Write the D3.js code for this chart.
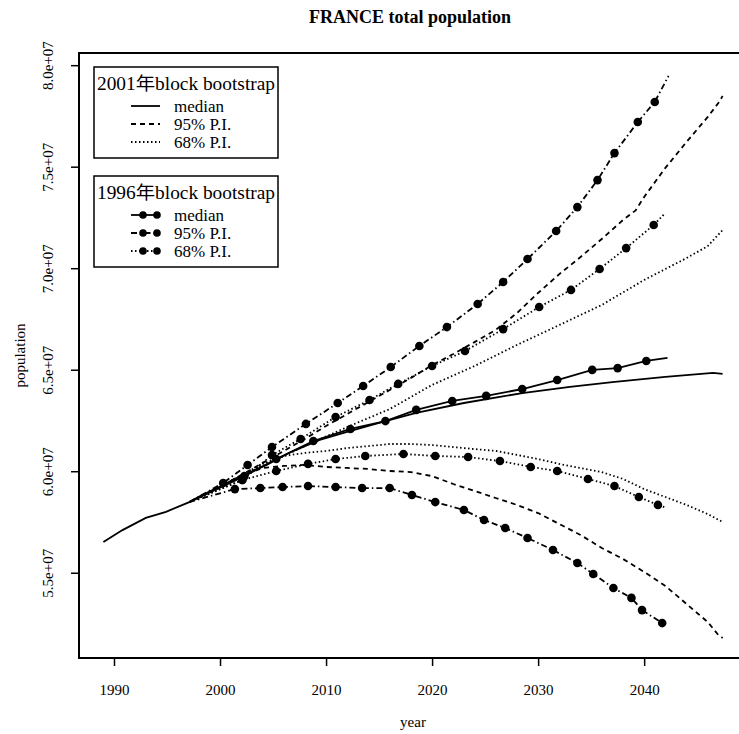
<!DOCTYPE html>
<html>
<head>
<meta charset="utf-8">
<script src="https://cdn.jsdelivr.net/npm/d3@7"></script>
<style>
  body { margin: 0; background: #fff; }
  svg { font-family: "Liberation Serif", "Noto Sans CJK TC", serif; }
</style>
</head>
<body>
<div id="chart"></div>
<script>
// population in millions, [year, value]
const history = [[1989.0,56.51],[1990.8,57.10],[1993.0,57.70],[1994.9,58.00],[1997.1,58.48],[1998.3,58.83],[1999.9,59.22],[2001.0,59.52]];

// 2001 block bootstrap
const med2001 = [[2001.0,59.52],[2001.8,59.72],[2004.4,60.31],[2006.5,60.90],[2009.4,61.54],[2011.9,61.93],[2015.0,62.38],[2018.5,62.87],[2023.0,63.36],[2028.5,63.85],[2033.0,64.15],[2037.0,64.39],[2042.0,64.65],[2046.5,64.84],[2047.4,64.79]];
const up95_2001 = [[2001,59.52],[2002,59.81],[2004,60.40],[2006,60.99],[2008,61.59],[2010,62.23],[2012,62.82],[2014,63.41],[2016,64.00],[2018,64.59],[2020,65.23],[2022,65.77],[2024,66.36],[2026,66.96],[2028,67.79],[2030,68.78],[2032,69.71],[2034,70.55],[2036,71.44],[2038,72.37],[2039.2,72.85],[2040,73.51],[2042,74.94],[2044,76.22],[2046,77.45],[2047,78.14],[2047.4,78.48]];
const up68_2001 = [[2001,59.52],[2004,60.26],[2008,61.24],[2012,62.18],[2016,63.06],[2020,64.25],[2024,65.18],[2028,66.22],[2032,67.20],[2036,68.19],[2040,69.42],[2044,70.50],[2046,71.09],[2047.4,71.88]];
const lo68_2001 = [[2001,59.52],[2004,60.36],[2006,60.75],[2008,60.90],[2010,61.00],[2012,61.14],[2014,61.24],[2016,61.34],[2018,61.34],[2020,61.29],[2022,61.19],[2024,61.09],[2026,61.00],[2028,60.80],[2030,60.60],[2032,60.36],[2034,60.16],[2036,59.96],[2038,59.62],[2040,59.12],[2042,58.73],[2044,58.34],[2046,57.89],[2047.4,57.50]];
const lo95_2001 = [[2001,59.52],[2002,59.76],[2004,60.16],[2006,60.26],[2008,60.31],[2010,60.21],[2012,60.16],[2014,60.11],[2016,60.01],[2018,59.96],[2020,59.76],[2022,59.37],[2024,59.03],[2026,58.68],[2028,58.34],[2030,57.94],[2032,57.40],[2034,56.86],[2036,56.22],[2038,55.68],[2040,55.04],[2042,54.35],[2044,53.46],[2046,52.57],[2047,51.93],[2047.4,51.79]];

// 1996 block bootstrap
const med1996 = [[1997.1,58.48],[2002.3,59.76],[2005.3,60.60],[2008.8,61.49],[2012.3,62.08],[2015.6,62.47],[2018.5,63.02],[2021.9,63.46],[2025.1,63.71],[2028.5,64.05],[2031.8,64.49],[2035.1,64.99],[2037.5,65.08],[2040.2,65.43],[2042.2,65.58]];
const up95_1996 = [[1997.1,58.48],[2000.3,59.42],[2002.6,60.31],[2004.9,61.19],[2008.1,62.33],[2011.1,63.36],[2013.5,64.20],[2016.1,65.13],[2018.8,66.17],[2021.4,67.10],[2024.3,68.24],[2026.7,69.32],[2029.0,70.45],[2031.7,71.83],[2033.7,73.01],[2035.6,74.34],[2037.2,75.67],[2039.4,77.20],[2041.0,78.19],[2042.3,79.47]];
const up68_1996 = [[1997.1,58.48],[2002.1,59.57],[2004.9,60.80],[2007.6,61.59],[2010.9,62.67],[2014.1,63.51],[2016.8,64.30],[2020.0,65.18],[2023.1,65.92],[2026.7,67.00],[2030.1,68.09],[2033.1,68.93],[2035.8,69.96],[2038.3,70.99],[2040.9,72.13],[2042.0,72.72]];
const lo68_1996 = [[1997.1,58.48],[2002.1,59.57],[2005.3,60.01],[2008.3,60.36],[2010.9,60.60],[2013.7,60.75],[2017.3,60.85],[2020.3,60.75],[2023.4,60.70],[2026.4,60.50],[2029.3,60.21],[2031.8,60.01],[2034.7,59.62],[2037.2,59.27],[2039.5,58.73],[2041.3,58.34],[2042.1,58.19]];
const lo95_1996 = [[1997.1,58.48],[2001.4,59.12],[2003.8,59.17],[2005.9,59.22],[2008.3,59.27],[2010.9,59.22],[2013.4,59.17],[2016.0,59.17],[2018.1,58.83],[2020.3,58.48],[2023.0,58.09],[2024.9,57.60],[2026.9,57.20],[2029.0,56.71],[2031.4,56.12],[2033.7,55.48],[2035.2,54.94],[2037.1,54.25],[2038.8,53.76],[2039.8,53.16],[2041.7,52.52]];

const xTicks = [1990, 2000, 2010, 2020, 2030, 2040];
const yTicks = [55, 60, 65, 70, 75, 80];
const legend2001 = ["median", "95% P.I.", "68% P.I."];
const legend1996 = ["median", "95% P.I.", "68% P.I."];

const W = 739, H = 734;
const plot = { left: 79, top: 53, right: 747, bottom: 658 };

const svg = d3.select("#chart").append("svg")
    .attr("width", W)
    .attr("height", H);

const x = d3.scaleLinear().domain([1986.7, 2049.7]).range([plot.left, plot.right]);
const y = d3.scaleLinear().domain([50.8, 80.6]).range([plot.bottom, plot.top]);

const line = d3.line().x(d => x(d[0])).y(d => y(d[1]));

const DASH = "5,4", DOT = "1.5,2.5", DASHDOT = "6,3,1.5,3";

// title
svg.append("text")
    .attr("x", 410).attr("y", 23)
    .attr("text-anchor", "middle")
    .attr("font-size", 18).attr("font-weight", "bold")
    .text("FRANCE total population");

// axes
const xAxis = svg.append("g")
    .attr("transform", `translate(0,${plot.bottom})`)
    .call(d3.axisBottom(x).tickValues(xTicks).tickSize(8).tickFormat(d3.format("d")));
xAxis.select(".domain").remove();
xAxis.selectAll("line").attr("stroke-width", 1.5);
xAxis.selectAll("text").attr("font-size", 15).attr("font-family", "Liberation Serif")
    .attr("y", 32).attr("dy", "0.35em");

const yAxis = svg.append("g")
    .attr("transform", `translate(${plot.left},0)`)
    .call(d3.axisLeft(y).tickValues(yTicks).tickSize(8).tickFormat(d => (d / 10).toFixed(1) + "e+07"));
yAxis.select(".domain").remove();
yAxis.selectAll("line").attr("stroke-width", 1.5);
yAxis.selectAll("text")
    .attr("font-size", 15).attr("font-family", "Liberation Serif")
    .attr("x", null)
    .attr("text-anchor", "middle")
    .attr("transform", "translate(-31,0) rotate(-90)")
    .attr("dy", "0.35em");

// frame (right side falls outside the picture)
svg.append("path")
    .attr("d", `M${plot.right},${plot.top} L${plot.left},${plot.top} L${plot.left},${plot.bottom} L${plot.right},${plot.bottom}`)
    .attr("fill", "none").attr("stroke", "#000").attr("stroke-width", 2);

svg.append("text")
    .attr("x", (plot.left + plot.right) / 2).attr("y", 722)
    .attr("text-anchor", "middle").attr("dy", "0.35em")
    .attr("font-size", 15)
    .text("year");

svg.append("text")
    .attr("transform", `translate(20,${(plot.top + plot.bottom) / 2}) rotate(-90)`)
    .attr("text-anchor", "middle").attr("dy", "0.35em")
    .attr("font-size", 15)
    .text("population");

// series
function drawLine(data, dash) {
    svg.append("path")
        .datum(data)
        .attr("d", line)
        .attr("fill", "none")
        .attr("stroke", "#000")
        .attr("stroke-width", 1.8)
        .attr("stroke-dasharray", dash);
}
function drawDots(data) {
    svg.append("g").selectAll("circle")
        .data(data)
        .enter()
        .append("circle")
        .attr("cx", d => x(d[0]))
        .attr("cy", d => y(d[1]))
        .attr("r", 4.3)
        .attr("fill", "#000");
}

drawLine(history, null);
drawLine(med2001, null);
drawLine(up95_2001, DASH);
drawLine(lo95_2001, DASH);
drawLine(up68_2001, DOT);
drawLine(lo68_2001, DOT);

drawLine(med1996, null);
drawLine(up95_1996, DASHDOT);
drawLine(lo95_1996, DASHDOT);
drawLine(up68_1996, DOT);
drawLine(lo68_1996, DOT);

drawDots(med1996.slice(1, -1));
drawDots(up95_1996.slice(1, -1));
drawDots(lo95_1996.slice(1));
drawDots(up68_1996.slice(1, -1));
drawDots(lo68_1996.slice(1, -1));

// legends
function drawLegend(top, title, labels, withDots) {
    const g = svg.append("g");
    g.append("rect")
        .attr("x", 94).attr("y", top)
        .attr("width", 184).attr("height", 91)
        .attr("fill", "#fff").attr("stroke", "#000").attr("stroke-width", 1.5);
    g.append("text")
        .attr("x", 97).attr("y", top + 17)
        .attr("dy", "0.35em")
        .attr("font-size", 18)
        .attr("textLength", 178)
        .attr("lengthAdjust", "spacingAndGlyphs")
        .text(title);
    const dashes = [null, withDots ? DASHDOT : DASH, DOT];
    labels.forEach((lab, i) => {
        const cy = top + 39 + i * 18;
        g.append("line")
            .attr("x1", 131).attr("x2", 160)
            .attr("y1", cy).attr("y2", cy)
            .attr("stroke", "#000").attr("stroke-width", 1.8)
            .attr("stroke-dasharray", dashes[i]);
        if (withDots) {
            [143, 157].forEach(cx => g.append("circle")
                .attr("cx", cx).attr("cy", cy).attr("r", 3.8).attr("fill", "#000"));
        }
        g.append("text")
            .attr("x", 174).attr("y", cy)
            .attr("dy", "0.35em")
            .attr("font-size", 17)
            .text(lab);
    });
}
drawLegend(67, "2001年block bootstrap", legend2001, false);
drawLegend(176, "1996年block bootstrap", legend1996, true);
</script>
</body>
</html>
